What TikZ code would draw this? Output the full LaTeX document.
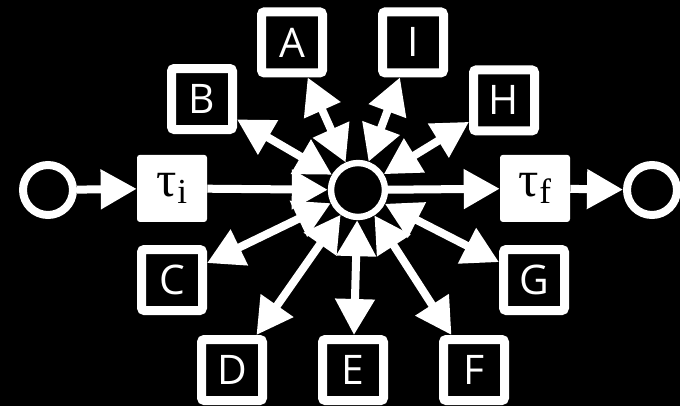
\documentclass[tikz,border=0pt]{standalone}
\usepackage{fontspec}
\setsansfont{Open Sans}
\newfontfamily\taufont{Liberation Serif}
\usepackage{tikz}
\usetikzlibrary{arrows.meta, calc, positioning, backgrounds}
\newcommand{\tausub}[1]{{\taufont\fontsize{36}{38}\selectfont τ\raisebox{-0.12em}{\fontsize{25}{27}\selectfont #1}}}

\begin{document}
\begin{tikzpicture}[
        state/.style={circle, draw=white, fill=black, line width=0.2cm, minimum size=1.25cm},
        hub/.style={circle, draw=white, fill=black, line width=0.16cm, minimum size=1.35cm},
        trans/.style={rectangle, rounded corners=2pt, fill=white, minimum width=1.75cm,
          minimum height=1.675cm, inner sep=0pt, text centered},
        letter/.style={rectangle, rounded corners=2pt, draw=white, fill=black, line width=0.225cm,
          minimum size=1.525cm, text=white, font=\sffamily\fontsize{29}{31}\selectfont},
        arrow/.style={-{Triangle[length=0.9cm, width=0.95cm]}, line width=0.2cm, white},
        both/.style={{Triangle[length=0.9cm, width=0.95cm]}-{Triangle[length=0.9cm, width=0.95cm]}, line width=0.2cm, white}
      ]
        \fill[black] (0,0) rectangle (17,10.15);
        \useasboundingbox (0,0) rectangle (17,10.15);
        \node[state] (start) at (1.2,5.4) {};
        \node[trans] (ti) at (4.3,5.44) {\tausub{i}};
        \node[hub] (mid) at (8.95,5.4) {};
        \node[trans] (tf) at (13.375,5.44) {\tausub{f}};
        \node[state] (stop) at (16.3,5.4) {};
        \node[letter] (A) at (7.3,9.09) {A};
        \node[letter] (I) at (10.325,9.09) {I};
        \node[letter] (B) at (5.05,7.675) {B};
        \node[letter] (H) at (12.6,7.64) {H};
        \node[letter] (C) at (4.3,3.15) {C};
        \node[letter] (G) at (13.35,3.15) {G};
        \node[letter] (D) at (5.8,0.9) {D};
        \node[letter] (E) at (8.825,0.9) {E};
        \node[letter] (F) at (11.85,0.9) {F};
        \draw[arrow] (start) -- (ti);
        \draw[arrow] (ti) -- (mid);
        \draw[arrow] (mid) -- (tf);
        \draw[arrow] (tf) -- (stop);
        \draw[both] (mid) -- (A);
        \draw[both] (mid) -- (I);
        \draw[both] (mid) -- (B);
        \draw[both] (mid) -- (H);
        \draw[both] (mid) -- (C);
        \draw[both] (mid) -- (G);
        \draw[both] (mid) -- (D);
        \draw[both] (mid) -- (E);
        \draw[both] (mid) -- (F);
      \end{tikzpicture}
\end{document}
